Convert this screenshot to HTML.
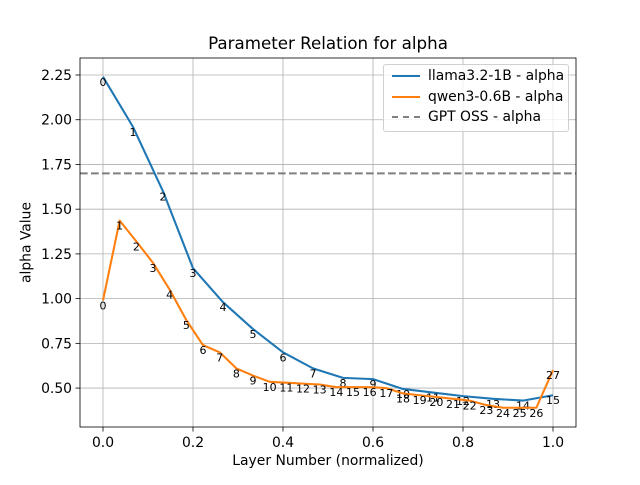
<!DOCTYPE html>
<html><head><meta charset="utf-8"><style>body{margin:0;background:#fff}svg{font-family:"DejaVu Sans","Liberation Sans",sans-serif}</style></head>
<body>
<svg id="c" width="640" height="480"></svg>
<script>
const llamaVals=[2.24,1.96,1.60,1.17,0.98,0.83,0.70,0.61,0.557,0.55,0.495,0.475,0.455,0.44,0.43,0.46];
const qwenVals=[0.99,1.436,1.32,1.20,1.05,0.88,0.74,0.70,0.61,0.57,0.535,0.53,0.525,0.52,0.505,0.505,0.505,0.50,0.47,0.46,0.45,0.44,0.43,0.405,0.39,0.39,0.39,0.60];
const gptVal=1.70;
const xTicks=[0,0.2,0.4,0.6,0.8,1.0];
const xTickLabels=["0.0","0.2","0.4","0.6","0.8","1.0"];
const yTicks=[0.5,0.75,1.0,1.25,1.5,1.75,2.0,2.25];
const yTickLabels=["0.50","0.75","1.00","1.25","1.50","1.75","2.00","2.25"];
const NS="http://www.w3.org/2000/svg";
const svg=document.getElementById('c');
const L=80,R=576,T=58,B=427;
const sx=v=>103+v*450;
const sy=v=>75+(2.25-v)*178.9;
function el(t,a,p){const e=document.createElementNS(NS,t);for(const k in a)e.setAttribute(k,a[k]);(p||svg).appendChild(e);return e;}
xTicks.forEach((v,i)=>{
const g=el('line',{x1:sx(v),x2:sx(v),y1:T,y2:B,stroke:'#b0b0b0','stroke-width':0.8});


el('line',{x1:sx(v),x2:sx(v),y1:B,y2:B+4.5,stroke:'#000','stroke-width':0.8});
const t=el('text',{x:sx(v),y:B+20,'text-anchor':'middle','font-size':13.9});t.textContent=xTickLabels[i];


});
yTicks.forEach((v,i)=>{
const g=el('line',{x1:L,x2:R,y1:sy(v),y2:sy(v),stroke:'#b0b0b0','stroke-width':0.8});


el('line',{x1:L-4.5,x2:L,y1:sy(v),y2:sy(v),stroke:'#000','stroke-width':0.8});
const t=el('text',{x:L-8,y:sy(v)+5,'text-anchor':'end','font-size':13.9});t.textContent=yTickLabels[i];


});
const gl=el('line',{x1:L,x2:R,y1:sy(gptVal),y2:sy(gptVal),stroke:'#7f7f7f','stroke-width':2.08,'stroke-dasharray':'7.7,3.3'});


function series(vals,color,name){
const n=vals.length-1;
const pts=vals.map((v,i)=>sx(i/n)+','+sy(v)).join(' ');
const p=el('polyline',{points:pts,fill:'none',stroke:color,'stroke-width':2.08,'stroke-linejoin':'round'});


vals.forEach((v,i)=>{
const t=el('text',{x:sx(i/n),y:sy(v)+9,'text-anchor':'middle','font-size':11});t.textContent=i;


});
}
series(llamaVals,'#1f77b4','llama');
series(qwenVals,'#ff7f0e','qwen');
el('rect',{x:L,y:T,width:R-L,height:B-T,fill:'none',stroke:'#000','stroke-width':0.8});
</script>
<div style="position:absolute;left:0;top:0;width:640px;height:480px;font-family:'DejaVu Sans','Liberation Sans',sans-serif;pointer-events:none">
<div style="position:absolute;left:0;width:656px;top:33px;text-align:center;font-size:16.7px;line-height:20px">Parameter Relation for alpha</div>
<div style="position:absolute;left:0;width:656px;top:453px;text-align:center;font-size:13.9px;line-height:17px">Layer Number (normalized)</div>
<div style="position:absolute;left:-33px;top:234px;width:120px;text-align:center;font-size:13.9px;line-height:17px;transform:rotate(-90deg)">alpha Value</div>
<div style="position:absolute;left:383px;top:64px;width:184px;height:66px;border:1px solid #d0d0d0;border-radius:3px;background:rgba(255,255,255,0.8);font-size:13.9px;line-height:17px">
<div style="position:absolute;left:8px;top:3px;white-space:nowrap"><span style="display:inline-block;width:28px;border-top:2px solid #1f77b4;vertical-align:middle;margin-right:8px"></span>llama3.2-1B - alpha</div>
<div style="position:absolute;left:8px;top:24px;white-space:nowrap"><span style="display:inline-block;width:28px;border-top:2px solid #ff7f0e;vertical-align:middle;margin-right:8px"></span>qwen3-0.6B - alpha</div>
<div style="position:absolute;left:8px;top:44px;white-space:nowrap"><span style="display:inline-block;width:28px;border-top:2px dashed #7f7f7f;vertical-align:middle;margin-right:8px"></span>GPT OSS - alpha</div>
</div>
</div>
</body></html>
